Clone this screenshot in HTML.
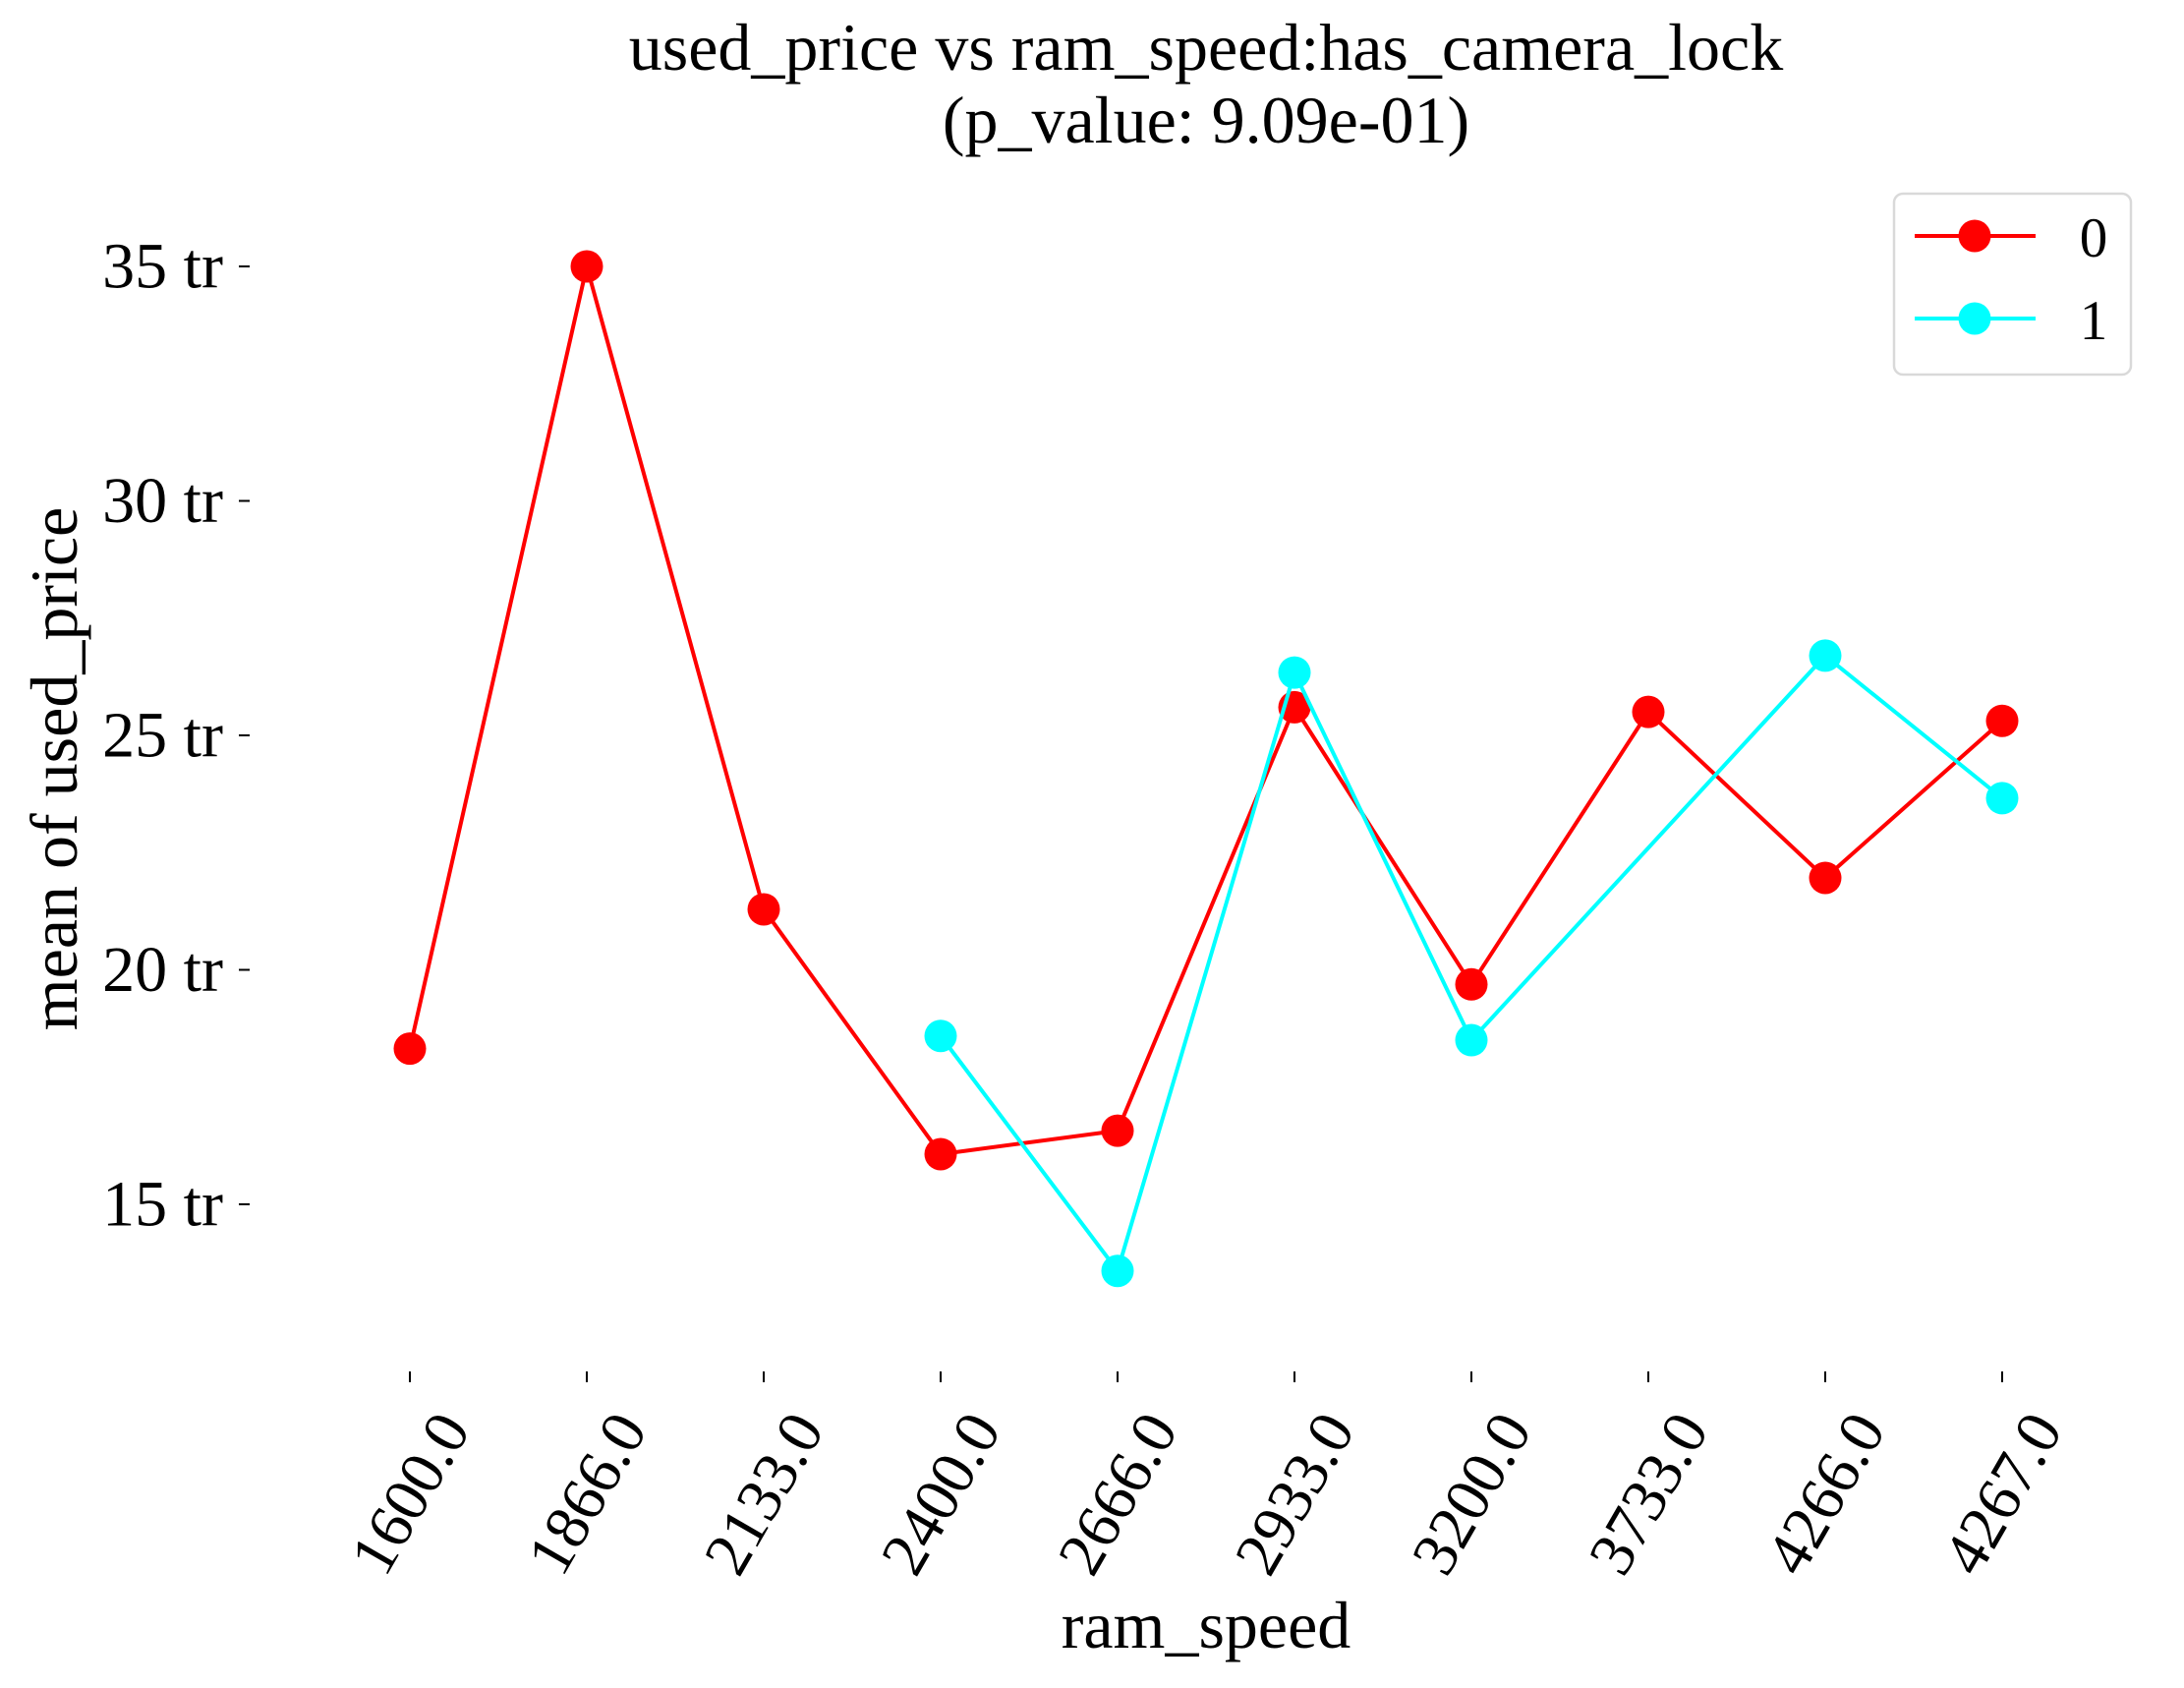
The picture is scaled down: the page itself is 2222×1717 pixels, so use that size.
<!DOCTYPE html>
<html><head><meta charset="utf-8"><style>
html,body{margin:0;padding:0;background:#fff;}
svg{display:block;font-family:"Liberation Serif",serif;}
</style></head><body>
<svg id="chart" width="2222" height="1717" viewBox="0 0 2222 1717">
<g>
<text x="1227" y="71" font-size="68" text-anchor="middle">used_price vs ram_speed:has_camera_lock</text>
<text x="1227" y="145" font-size="68" text-anchor="middle">(p_value: 9.09e-01)</text>
</g>
<text transform="translate(78,782) rotate(-90)" font-size="68" text-anchor="middle">mean of used_price</text>
<text x="1227" y="1676" font-size="68" text-anchor="middle">ram_speed</text>
<g id="yaxis"></g>
<g id="xaxis"></g>
<g id="series"></g>
<g>
<rect x="1927" y="197" width="241" height="184" rx="9" fill="#fff" stroke="#d9d9d9" stroke-width="2.5"/>
<g>
<line x1="1948" y1="240" x2="2071" y2="240" stroke="#ff0000" stroke-width="4"/>
<circle cx="2009" cy="240" r="16.5" fill="#ff0000"/>
<text x="2130" y="261" font-size="57" text-anchor="middle">0</text>
</g>
<g>
<line x1="1948" y1="324" x2="2071" y2="324" stroke="#00ffff" stroke-width="4"/>
<circle cx="2009" cy="324" r="16.5" fill="#00ffff"/>
<text x="2130" y="345" font-size="57" text-anchor="middle">1</text>
</g>
</g>
</svg>
<script>
const categories = ["1600.0","1866.0","2133.0","2400.0","2666.0","2933.0","3200.0","3733.0","4266.0","4267.0"];
const series0 = [18.32, 35.0, 21.29, 16.07, 16.57, 25.6, 19.69, 25.5, 21.96, 25.31];
const series1 = [null, null, null, 18.59, 13.58, 26.34, 18.5, null, 26.70, 23.66];
const yTicks = [15, 20, 25, 30, 35];
const yTickLabels = ["15 tr", "20 tr", "25 tr", "30 tr", "35 tr"];

const NS = "http://www.w3.org/2000/svg";
function xScale(i){ return 417 + i * 180; }
function yScale(v){ return 1225 - (v - 15) * 47.7; }
function mk(tag, attrs, parent){
  const e = document.createElementNS(NS, tag);
  for (const k in attrs) e.setAttribute(k, attrs[k]);
  parent.appendChild(e);
  return e;
}
const yaxis = document.getElementById('yaxis');
yTicks.forEach((v, i) => {
  const y = yScale(v);
  const t = mk('line', {x1:243, x2:254, y1:y, y2:y, stroke:'#000', 'stroke-width':2}, yaxis);
  
  
  const l = mk('text', {x:227, y:y, 'font-size':66, 'text-anchor':'end', 'dominant-baseline':'central'}, yaxis);
  l.textContent = yTickLabels[i];
  
  
});
const xaxis = document.getElementById('xaxis');
categories.forEach((c, i) => {
  const x = xScale(i);
  const t = mk('line', {x1:x, x2:x, y1:1395, y2:1406, stroke:'#000', 'stroke-width':2}, xaxis);
  
  
  const l = mk('text', {x:0, y:0, 'font-size':64, 'text-anchor':'middle', 'dominant-baseline':'central', transform:'translate(' + x + ',1519) rotate(-60)'}, xaxis);
  l.textContent = c;
  
  
});
const sg = document.getElementById('series');
function drawSeries(vals, color, name){
  const pts = [];
  vals.forEach((v, i) => { if (v !== null) pts.push([xScale(i), yScale(v)]); });
  const line = mk('polyline', {points: pts.map(p => p.join(',')).join(' '), fill:'none', stroke:color, 'stroke-width':4, 'stroke-linejoin':'round'}, sg);
  
  
  pts.forEach(p => {
    const c = mk('circle', {cx:p[0], cy:p[1], r:16.5, fill:color}, sg);
    
    
  });
}
drawSeries(series0, '#ff0000', 'series-0');
drawSeries(series1, '#00ffff', 'series-1');
</script>
</body></html>
